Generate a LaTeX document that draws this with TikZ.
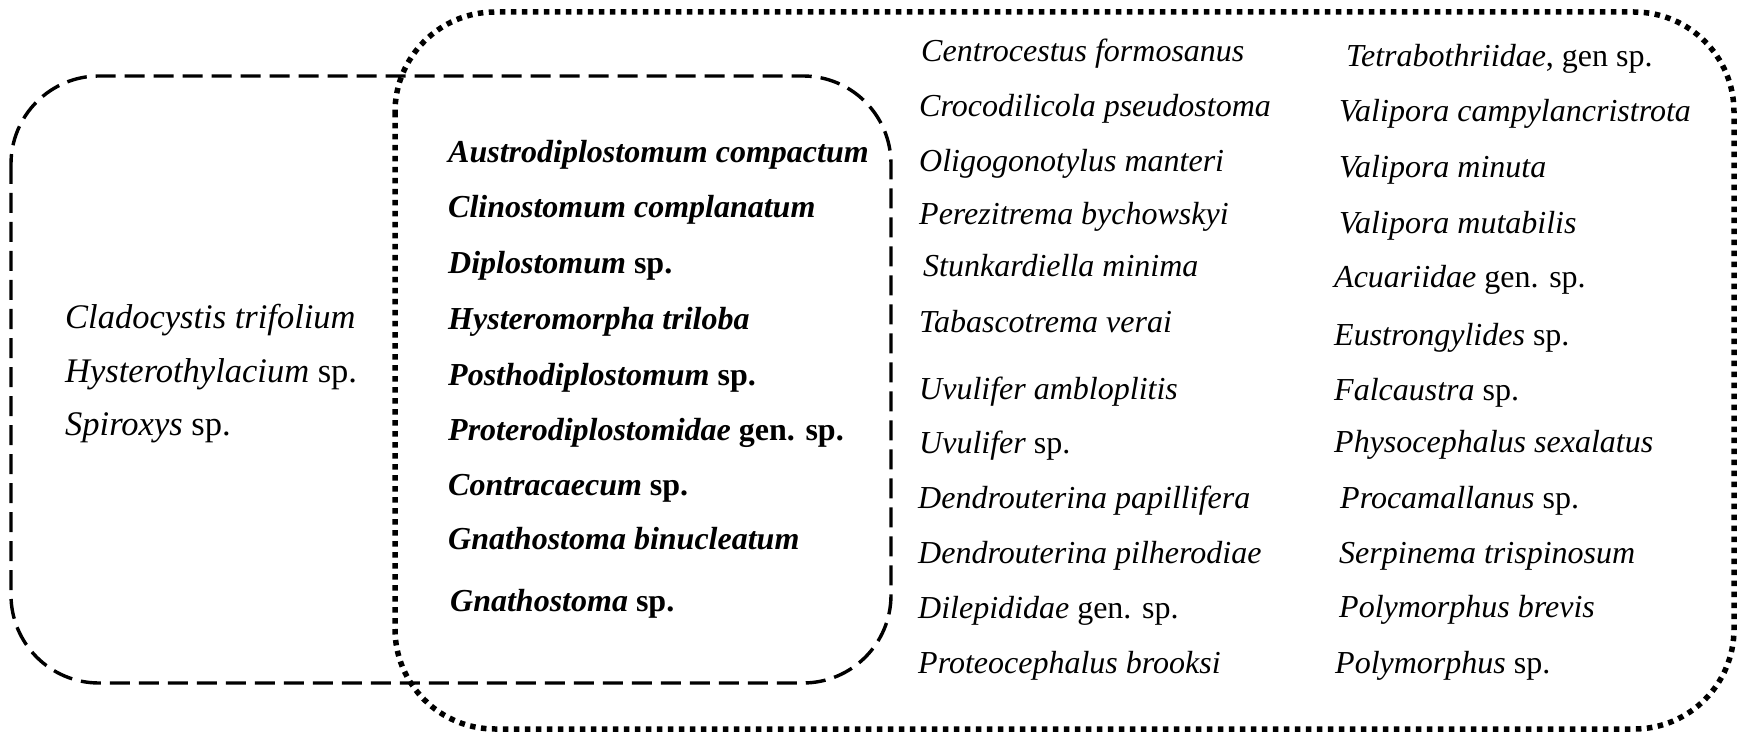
\documentclass[tikz,border=0pt]{standalone}
\usepackage{fontspec}
\setmainfont{Liberation Serif}
\begin{document}
\begin{tikzpicture}[x=1pt,y=-1pt,
  lbl/.style={anchor=base west,inner sep=0pt,font=\fontsize{32}{38}\selectfont\itshape},
  biglbl/.style={anchor=base west,inner sep=0pt,font=\fontsize{34.5}{40}\selectfont\itshape},
  blbl/.style={anchor=base west,inner sep=0pt,font=\fontsize{32}{38}\selectfont\bfseries\itshape},
  dashbox/.style={line width=3.4pt,dash pattern=on 20pt off 9pt,rounded corners=88pt},
  dotbox/.style={line width=5.5pt,dash pattern=on 5.5pt off 5.5pt,rounded corners=100pt}]
\useasboundingbox (0,0) rectangle (1740,735);
\draw[dashbox] (11,76) rectangle (891,683);
\draw[dotbox] (395,12) rectangle (1734,729);
% left column
\node[biglbl] (l1) at (65,328) {Cladocystis trifolium};
\node[biglbl] (l2) at (65,382) {Hysterothylacium \upshape sp.};
\node[biglbl] (l3) at (65,435) {Spiroxys \upshape sp.};
% middle column
\node[blbl] (m1) at (448,163) {Austrodiplostomum compactum};
\node[blbl] (m2) at (448,218) {Clinostomum complanatum};
\node[blbl] (m3) at (448,274) {Diplostomum \upshape sp.};
\node[blbl] (m4) at (448,329) {Hysteromorpha triloba};
\node[blbl] (m5) at (448,385) {Posthodiplostomum \upshape sp.};
\node[blbl] (m6) at (448,440) {Proterodiplostomidae \upshape gen. sp.};
\node[blbl] (m7) at (448,495) {Contracaecum \upshape sp.};
\node[blbl] (m8) at (448,549) {Gnathostoma binucleatum};
\node[blbl] (m9) at (450,611) {Gnathostoma \upshape sp.};
% right column 1
\node[lbl] (a1) at (921,62) {Centrocestus formosanus};
\node[lbl] (a2) at (919,117) {Crocodilicola pseudostoma};
\node[lbl] (a3) at (919,172) {Oligogonotylus manteri};
\node[lbl] (a4) at (919,225) {Perezitrema bychowskyi};
\node[lbl] (a5) at (923,277) {Stunkardiella minima};
\node[lbl] (a6) at (919,332) {Tabascotrema verai};
\node[lbl] (a7) at (919,399) {Uvulifer ambloplitis};
\node[lbl] (a8) at (919,453) {Uvulifer \upshape sp.};
\node[lbl] (a9) at (918,508) {Dendrouterina papillifera};
\node[lbl] (a10) at (918,563) {Dendrouterina pilherodiae};
\node[lbl] (a11) at (918,618) {Dilepididae \upshape gen. sp.};
\node[lbl] (a12) at (918,673) {Proteocephalus brooksi};
% right column 2
\node[lbl] (b1) at (1346,67) {Tetrabothriidae\upshape, gen sp.};
\node[lbl] (b2) at (1339,122) {Valipora campylancristrota};
\node[lbl] (b3) at (1339,178) {Valipora minuta};
\node[lbl] (b4) at (1339,234) {Valipora mutabilis};
\node[lbl] (b5) at (1334,288) {Acuariidae \upshape gen. sp.};
\node[lbl] (b6) at (1334,345) {Eustrongylides \upshape sp.};
\node[lbl] (b7) at (1334,400) {Falcaustra \upshape sp.};
\node[lbl] (b8) at (1334,452) {Physocephalus sexalatus};
\node[lbl] (b9) at (1340,508) {Procamallanus \upshape sp.};
\node[lbl] (b10) at (1339,563) {Serpinema trispinosum};
\node[lbl] (b11) at (1339,617) {Polymorphus brevis};
\node[lbl] (b12) at (1335,673) {Polymorphus \upshape sp.};
\end{tikzpicture}
\end{document}
